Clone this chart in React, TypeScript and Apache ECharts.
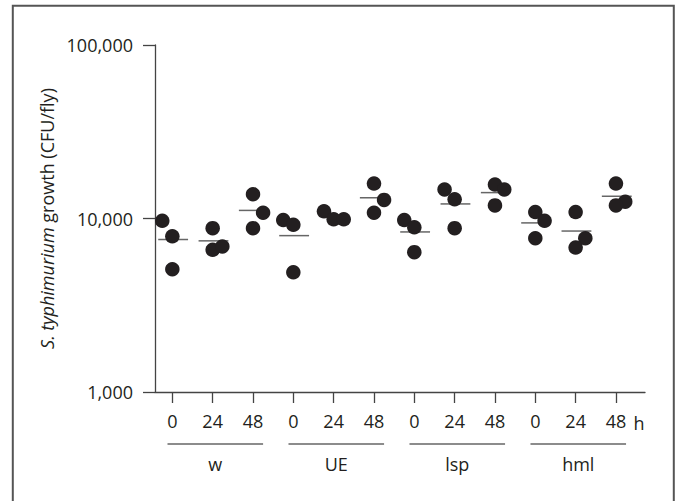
import React, { useEffect, useRef } from "react";
import * as echarts from "echarts";

const groups = ["w", "UE", "lsp", "hml"];
const timeLabels = ["0", "24", "48"];
const unitLabel = "h";
const yTicks = [1000, 10000, 100000];

// CFU/fly values for each condition (group x time), 3 flies each
const values: number[][] = [
  [9700, 7900, 5100], // w 0
  [8800, 6600, 6900], // w 24
  [13800, 10800, 8800], // w 48
  [9800, 9200, 4900], // UE 0
  [11000, 9900, 9900], // UE 24
  [15900, 12800, 10800], // UE 48
  [9800, 8900, 6400], // lsp 0
  [14700, 12900, 8800], // lsp 24
  [15700, 14700, 11900], // lsp 48
  [10900, 9700, 7700], // hml 0
  [10900, 7700, 6800], // hml 24
  [15900, 12500, 11900], // hml 48
];

// horizontal jitter of each point (in category units)
const jitter: number[][] = [
  [-0.25, 0, 0],
  [0, 0, 0.24],
  [0, 0.25, 0],
  [-0.25, 0, 0],
  [-0.24, 0, 0.25],
  [0, 0.25, 0],
  [-0.25, 0, 0],
  [-0.25, 0, 0],
  [0, 0.23, 0],
  [0, 0.23, 0],
  [0, 0.24, 0],
  [0, 0.23, 0],
];

const FONT = "'Open Sans', sans-serif";
const FS = 18;
const TEXT = "#231f20";
const AXIS = "#444";

export default function App() {
  const ref = useRef<HTMLDivElement>(null);
  useEffect(() => {
    document.body.style.margin = "0";
    const chart = echarts.init(ref.current!, null, { renderer: "svg" });

    const points: number[][] = [];
    values.forEach((vals, i) =>
      vals.forEach((v, j) => points.push([i + jitter[i][j], v]))
    );
    const means = values.map((vals, i) => [
      i,
      vals.reduce((a, b) => a + b, 0) / vals.length,
    ]);
    const catIdx = values.map((_, i) => i);

    chart.setOption({
      animation: false,
      grid: { left: 155, right: 33, top: 45, bottom: 109, containLabel: false },
      xAxis: {
        type: "value",
        min: -0.43,
        max: 11.72,
        axisLine: { show: true, onZero: false, lineStyle: { color: AXIS, width: 1.3 } },
        axisTick: {
          show: true,
          customValues: catIdx,
          length: 11,
          lineStyle: { color: AXIS, width: 1.3 },
        },
        axisLabel: {
          show: true,
          customValues: catIdx,
          margin: 20,
          fontFamily: FONT,
          fontSize: FS,
          color: TEXT,
          formatter: (v: number) => timeLabels[Math.round(v) % 3],
        },
        splitLine: { show: false },
      },
      yAxis: {
        type: "log",
        logBase: 10,
        min: yTicks[0],
        max: yTicks[yTicks.length - 1],
        axisLine: { show: true, onZero: false, lineStyle: { color: AXIS, width: 1.3 } },
        axisTick: { show: true, length: 12, lineStyle: { color: AXIS, width: 1.3 } },
        minorTick: { show: false },
        splitLine: { show: false },
        axisLabel: {
          margin: 22,
          fontFamily: FONT,
          fontSize: FS,
          color: TEXT,
          formatter: (v: number) => Math.round(v).toLocaleString("en-US"),
        },
        name: "{i|S. typhimurium} growth (CFU/fly)",
        nameLocation: "middle",
        nameRotate: 90,
        nameGap: 99,
        nameTextStyle: {
          fontFamily: FONT,
          fontSize: FS,
          color: TEXT,
          rich: {
            i: { fontStyle: "italic", fontFamily: FONT, fontSize: FS, color: TEXT },
          },
        },
      },
      series: [
        {
          type: "custom",
          data: means,
          z: 1,
          renderItem: (params: any, api: any) => {
            const x = api.value(0);
            const y = api.value(1);
            const p1 = api.coord([x - 0.35, y]);
            const p2 = api.coord([x + 0.39, y]);
            return {
              type: "line",
              shape: { x1: p1[0], y1: p1[1], x2: p2[0], y2: p2[1] },
              style: { stroke: "#666", lineWidth: 1.5 },
            };
          },
        },
        {
          type: "scatter",
          data: points,
          symbol: "circle",
          symbolSize: 14.5,
          z: 3,
          itemStyle: { color: TEXT, opacity: 1 },
        },
      ],
    });

    const lineY = 444;
    const labelY = 464;
    const gfx: any[] = [
      {
        type: "rect",
        shape: { x: 12.8, y: 5.7, width: 661, height: 600 },
        style: { fill: "none", stroke: "#555", lineWidth: 2 },
        silent: true,
      },
    ];
    groups.forEach((name, gi) => {
      const xa = chart.convertToPixel({ xAxisIndex: 0 }, gi * 3 - 0.12) as number;
      const xb = chart.convertToPixel({ xAxisIndex: 0 }, gi * 3 + 2 + 0.25) as number;
      gfx.push({
        type: "line",
        shape: { x1: xa, y1: lineY, x2: xb, y2: lineY },
        style: { stroke: "#666", lineWidth: 1.4 },
      });
      gfx.push({
        type: "text",
        x: (xa + xb) / 2,
        y: labelY,
        style: {
          text: name,
          fontFamily: FONT,
          fontSize: FS,
          fill: TEXT,
          align: "center",
          verticalAlign: "middle",
        },
      });
    });
    const xl = chart.convertToPixel({ xAxisIndex: 0 }, 11) as number;
    gfx.push({
      type: "text",
      x: xl + 23,
      y: 423,
      style: {
        text: unitLabel,
        fontFamily: FONT,
        fontSize: FS,
        fill: TEXT,
        align: "center",
        verticalAlign: "middle",
      },
    });
    chart.setOption({ graphic: gfx });

    return () => chart.dispose();
  }, []);
  return <div ref={ref} style={{ width: 678, height: 501 }} />;
}
